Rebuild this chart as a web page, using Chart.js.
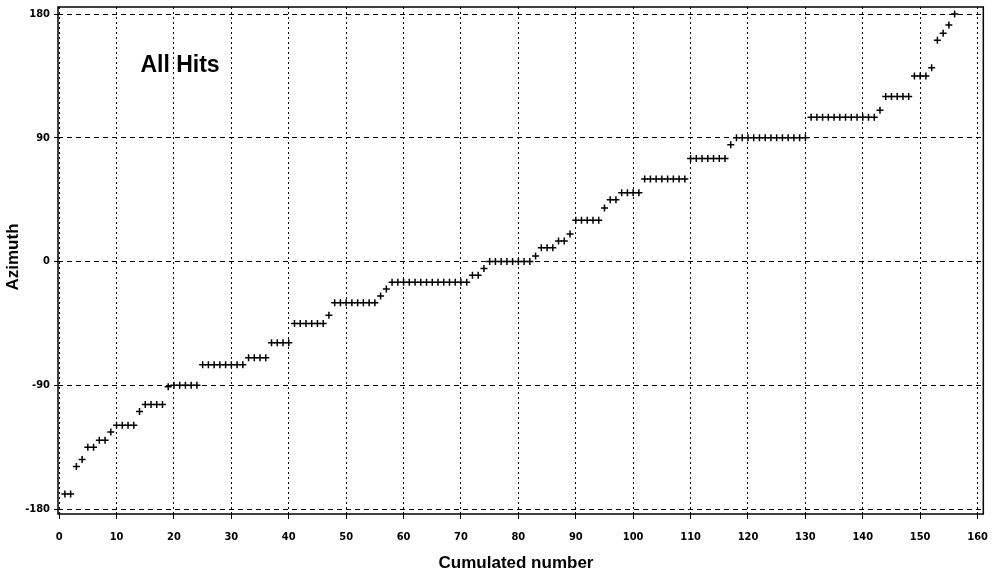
<!DOCTYPE html>
<html>
<head>
<meta charset="utf-8">
<script src="https://cdn.jsdelivr.net/npm/chart.js@4.4.0/dist/chart.umd.min.js"></script>
<style>
  html, body { margin: 0; padding: 0; background: #fff; }
  canvas { display: block; }
</style>
</head>
<body>
<canvas id="c" width="1000" height="575"></canvas>
<script>
// 数据：累计序号与方位角
const cumulated = [
  1, 2, 3, 4, 5, 6, 7, 8, 9, 10,
  11, 12, 13, 14, 15, 16, 17, 18, 19, 20,
  21, 22, 23, 24, 25, 26, 27, 28, 29, 30,
  31, 32, 33, 34, 35, 36, 37, 38, 39, 40,
  41, 42, 43, 44, 45, 46, 47, 48, 49, 50,
  51, 52, 53, 54, 55, 56, 57, 58, 59, 60,
  61, 62, 63, 64, 65, 66, 67, 68, 69, 70,
  71, 72, 73, 74, 75, 76, 77, 78, 79, 80,
  81, 82, 83, 84, 85, 86, 87, 88, 89, 90,
  91, 92, 93, 94, 95, 96, 97, 98, 99, 100,
  101, 102, 103, 104, 105, 106, 107, 108, 109, 110,
  111, 112, 113, 114, 115, 116, 117, 118, 119, 120,
  121, 122, 123, 124, 125, 126, 127, 128, 129, 130,
  131, 132, 133, 134, 135, 136, 137, 138, 139, 140,
  141, 142, 143, 144, 145, 146, 147, 148, 149, 150,
  151, 152, 153, 154, 155, 156
];
const azimuth = [
  -169, -169, -149, -144, -135, -135, -130, -130, -124, -119,
  -119, -119, -119, -109, -104, -104, -104, -104, -91, -90,
  -90, -90, -90, -90, -75, -75, -75, -75, -75, -75,
  -75, -75, -70, -70, -70, -70, -59, -59, -59, -59,
  -45, -45, -45, -45, -45, -45, -39, -30, -30, -30,
  -30, -30, -30, -30, -30, -25, -20, -15, -15, -15,
  -15, -15, -15, -15, -15, -15, -15, -15, -15, -15,
  -15, -10, -10, -5, 0, 0, 0, 0, 0, 0,
  0, 0, 4, 10, 10, 10, 15, 15, 20, 30,
  30, 30, 30, 30, 39, 45, 45, 50, 50, 50,
  50, 60, 60, 60, 60, 60, 60, 60, 60, 75,
  75, 75, 75, 75, 75, 75, 85, 90, 90, 90,
  90, 90, 90, 90, 90, 90, 90, 90, 90, 90,
  105, 105, 105, 105, 105, 105, 105, 105, 105, 105,
  105, 105, 110, 120, 120, 120, 120, 120, 135, 135,
  135, 141, 161, 166, 172, 180
];
const xTicks = [0, 10, 20, 30, 40, 50, 60, 70, 80, 90, 100, 110, 120, 130, 140, 150, 160];
const yTicks = [-180, -90, 0, 90, 180];

const points = cumulated.map((x, i) => ({ x: x, y: azimuth[i] }));

const tickFont = { family: "'DejaVu Sans Condensed', 'DejaVu Sans', sans-serif", size: 11, weight: 'bold' };

// 边框和文字标注
const framePlugin = {
  id: 'frame',
  afterDraw(chart) {
    const { ctx, chartArea: { left, right, top, bottom } } = chart;
    ctx.save();
    ctx.strokeStyle = '#000';
    ctx.lineWidth = 1.5;
    ctx.strokeRect(left, top, right - left, bottom - top);

    ctx.fillStyle = '#000';
    ctx.textAlign = 'center';
    ctx.textBaseline = 'middle';
    ctx.font = "bold 23px 'Liberation Sans', Arial, sans-serif";
    ctx.fillText('All Hits', 180, 66);

    ctx.font = "bold 17px 'Liberation Sans', Arial, sans-serif";
    ctx.fillText('Cumulated number', 516, 563);

    ctx.translate(13, 257);
    ctx.rotate(-Math.PI / 2);
    ctx.fillText('Azimuth', 0, 0);
    ctx.restore();
  }
};

new Chart(document.getElementById('c'), {
  type: 'scatter',
  data: {
    datasets: [{
      data: points,
      pointStyle: 'cross',
      pointRadius: 3.5,
      borderColor: '#000',
      backgroundColor: '#000',
      borderWidth: 1.5
    }]
  },
  plugins: [framePlugin],
  options: {
    responsive: false,
    animation: false,
    layout: { padding: { left: 0, top: 1, right: 15, bottom: 0 } },
    plugins: {
      legend: { display: false },
      tooltip: { enabled: false }
    },
    scales: {
      x: {
        type: 'linear',
        min: -0.2,
        max: 161,
        afterBuildTicks: s => { s.ticks = xTicks.map(v => ({ value: v })); },
        afterFit: s => { s.height = 61; },
        grid: {
          color: '#000',
          lineWidth: 1,
          drawTicks: true,
          tickLength: 5,
          tickBorderDash: []
        },
        border: { display: false, dash: [2, 3] },
        ticks: { color: '#000', font: tickFont, padding: 12, maxRotation: 0, autoSkip: false }
      },
      y: {
        type: 'linear',
        min: -183.6,
        max: 185.1,
        afterBuildTicks: s => { s.ticks = yTicks.map(v => ({ value: v })); },
        afterFit: s => { s.width = 58; s.paddingTop = 7; },
        grid: {
          color: '#000',
          lineWidth: 1,
          drawTicks: true,
          tickLength: 4,
          tickBorderDash: []
        },
        border: { display: false, dash: [5, 4] },
        ticks: { color: '#000', font: tickFont, padding: 4, autoSkip: false }
      }
    }
  }
});
</script>
</body>
</html>
